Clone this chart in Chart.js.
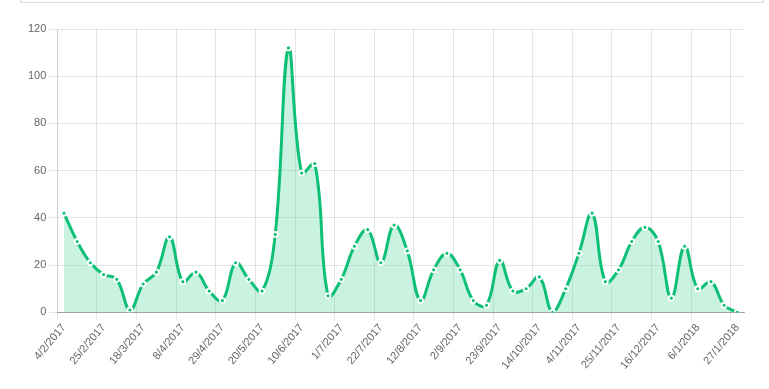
<!DOCTYPE html>
<html>
<head>
<meta charset="utf-8">
<script src="https://cdn.jsdelivr.net/npm/chart.js@4.4.1/dist/chart.umd.min.js"></script>
<style>
  html, body { margin: 0; padding: 0; background: #fff; }
  body { width: 769px; height: 389px; position: relative; overflow: hidden; }
  .panel-above { position: absolute; left: 20px; top: -40px; width: 742px; height: 41px; border: 1px solid #ddd; }
  #wrap { position: absolute; left: 0; top: 0; width: 769px; height: 389px; }
</style>
</head>
<body>
<div class="panel-above"></div>
<div id="wrap"><canvas id="chart"></canvas></div>
<script>
// weekly counts, 4/2/2017 .. 27/1/2018
const weeks = [
  "4/2/2017", "11/2/2017", "18/2/2017", "25/2/2017",
  "4/3/2017", "11/3/2017", "18/3/2017", "25/3/2017",
  "1/4/2017", "8/4/2017", "15/4/2017", "22/4/2017", "29/4/2017",
  "6/5/2017", "13/5/2017", "20/5/2017", "27/5/2017",
  "3/6/2017", "10/6/2017", "17/6/2017", "24/6/2017",
  "1/7/2017", "8/7/2017", "15/7/2017", "22/7/2017", "29/7/2017",
  "5/8/2017", "12/8/2017", "19/8/2017", "26/8/2017",
  "2/9/2017", "9/9/2017", "16/9/2017", "23/9/2017", "30/9/2017",
  "7/10/2017", "14/10/2017", "21/10/2017", "28/10/2017",
  "4/11/2017", "11/11/2017", "18/11/2017", "25/11/2017",
  "2/12/2017", "9/12/2017", "16/12/2017", "23/12/2017", "30/12/2017",
  "6/1/2018", "13/1/2018", "20/1/2018", "27/1/2018"
];
const counts = [
  42, 30, 21, 16, 14, 1, 12, 17, 32, 13, 17, 9, 5,
  21, 14, 9, 33, 112, 59, 63, 7, 14, 28, 35, 21, 37,
  26, 5, 18, 25, 18, 5, 3, 22, 9, 10, 15, 0, 10, 25,
  42, 13, 18, 30, 36, 30, 6, 28, 10, 13, 3, 0
];
const yTicks = { min: 0, max: 120, step: 20 };
const labelEvery = 3; // one label (and one vertical grid line) per 3 weeks

const green = "rgb(14,192,118)";
const tickFont = { family: "'Helvetica Neue', Helvetica, Arial, sans-serif", size: 11 };

const ctx = document.getElementById("chart").getContext("2d");
new Chart(ctx, {
  type: "line",
  data: {
    labels: weeks,
    datasets: [{
      data: counts,
      fill: true,
      backgroundColor: "rgba(30,200,130,0.24)",
      borderColor: green,
      borderWidth: 3,
      tension: 0.4,
      pointRadius: 2.5,
      pointBorderWidth: 1.8,
      pointBackgroundColor: green,
      pointBorderColor: "#fff"
    }]
  },
  options: {
    responsive: true,
    maintainAspectRatio: false,
    animation: false,
    layout: { padding: { left: 25, right: 25, top: 29, bottom: 16 } },
    plugins: {
      legend: { display: false },
      tooltip: { enabled: false }
    },
    scales: {
      x: {
        offset: true,
        grid: {
          offset: true,
          // only every third boundary gets a line
          color: (c) => (c.index !== undefined && c.index % labelEvery === 0) ? "rgba(0,0,0,0.1)" : "rgba(0,0,0,0)"
        },
        border: { color: "rgba(0,0,0,0.3)" },
        ticks: {
          autoSkip: false,
          maxRotation: 50,
          minRotation: 50,
          padding: 1,
          color: "#666",
          font: tickFont,
          callback: function (val, i) { return i % labelEvery === 0 ? this.getLabelForValue(val) : ""; }
        }
      },
      y: {
        min: yTicks.min,
        max: yTicks.max,
        grid: { color: "rgba(0,0,0,0.1)" },
        border: { color: "rgba(0,0,0,0.1)" },
        ticks: { stepSize: yTicks.step, color: "#666", font: tickFont }
      }
    }
  }
});
</script>
</body>
</html>
